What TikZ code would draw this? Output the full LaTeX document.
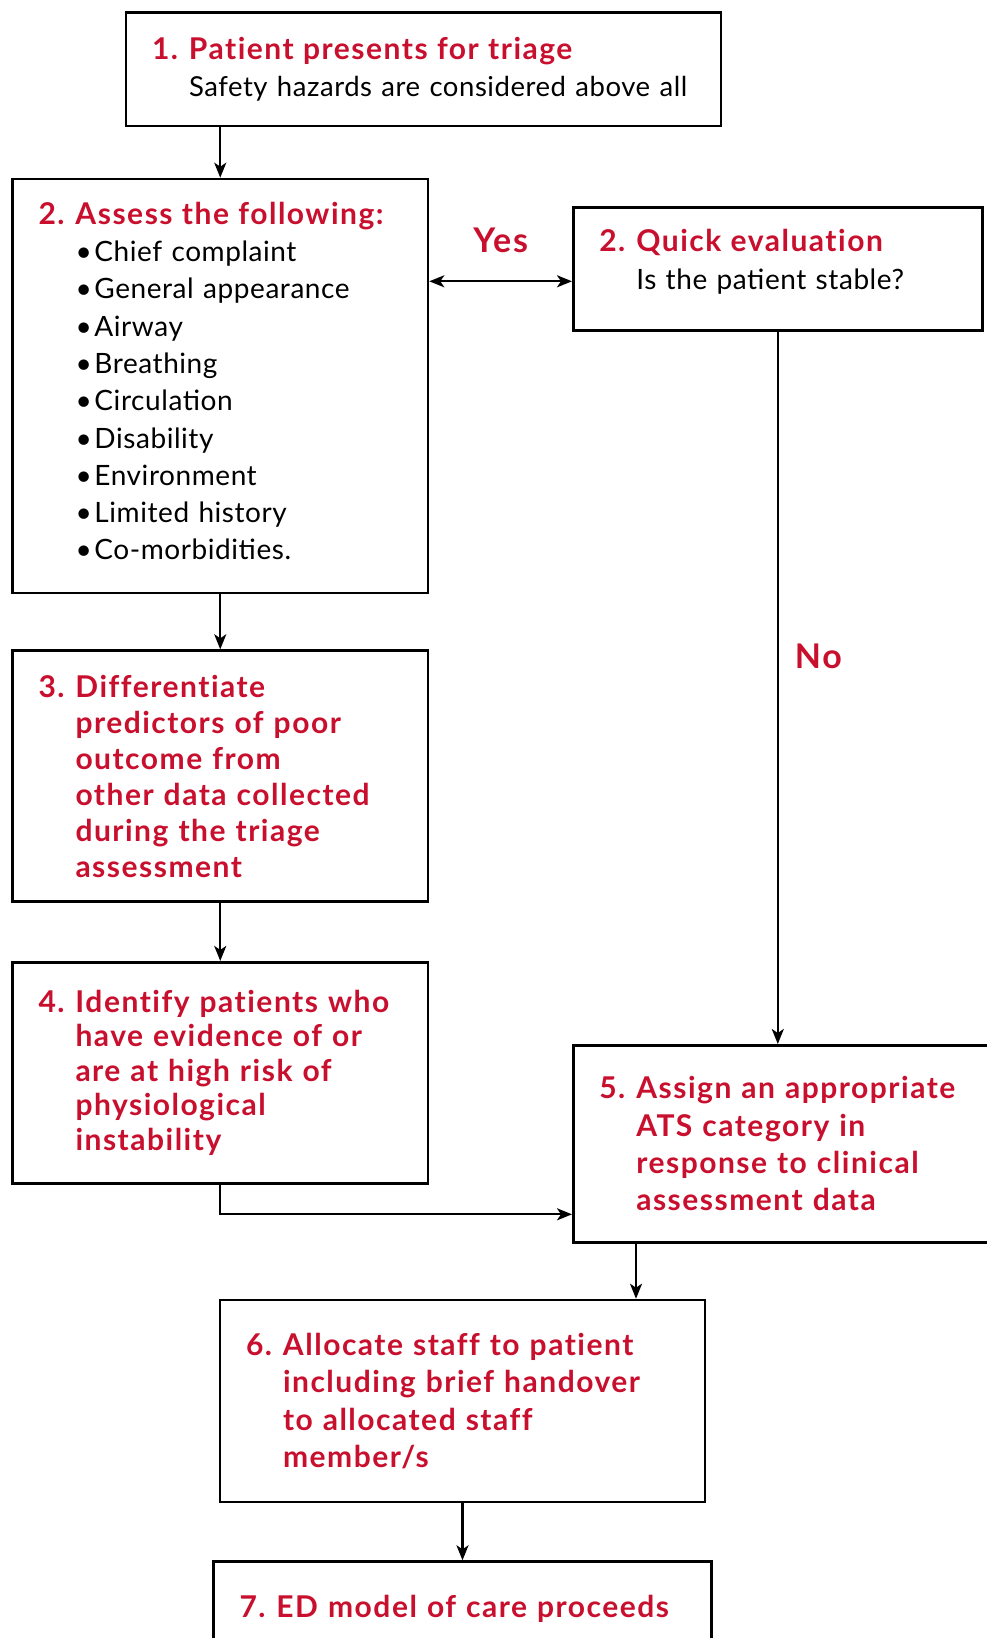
\documentclass[tikz,border=0pt]{standalone}
\usepackage{fontspec}
\setmainfont{Lato}[LetterSpace=2,
  BoldFeatures={LetterSpace=5, Ligatures=NoCommon}]
\usetikzlibrary{arrows.meta,positioning}

\definecolor{stepred}{RGB}{200,16,46}

\newcommand{\stepno}[1]{\makebox[37pt][l]{#1}}
\newcommand{\hi}[1]{{\color{stepred}\bfseries\fontsize{30}{37.3}\selectfont #1}}
\newcommand{\itm}[1]{\\\stepno{}\makebox[19pt][l]{\textbullet}#1}

\tikzset{
  stepbox/.style={draw, line width=2.6pt, inner xsep=26pt, inner ysep=0pt,
    align=left, font=\fontsize{28}{37.3}\selectfont},
  redbox/.style={stepbox, text=stepred, font=\bfseries\fontsize{30}{37.3}\selectfont},
  arr/.style={->, line width=2.2pt},
  lbl/.style={inner sep=0pt, text=stepred, font=\bfseries\fontsize{34}{38}\selectfont},
}

\begin{document}
\begin{tikzpicture}[x=1pt,y=1pt,>={Stealth[length=15pt,width=12pt,inset=4pt]},node distance=55pt]

  \clip (0,0) rectangle (987,-1638);

  \node[stepbox, text width=543pt, minimum height=113.5pt] (b1) at (423.5,-69.25)
    {\hi{\stepno{1.}Patient presents for triage}\\
     \stepno{}\mbox{\fontsize{27.5}{37.3}\selectfont Safety hazards are considered above all}};

  \node[stepbox, text width=363.5pt, minimum height=414pt] (b2) at (220.25,-386)
    {\hi{\stepno{2.}Assess the following:}%
     \itm{Chief complaint}\itm{General appearance}\itm{Airway}%
     \itm{Breathing}\itm{Circulation}\itm{Disability}%
     \itm{Environment}\itm{Limited history}\itm{Co-morbidities.\rule[-10pt]{0pt}{1pt}}};

  \node[stepbox, text width=357pt, minimum height=123pt, anchor=north west] (q) at (572,-206)
    {\hi{\stepno{2.}Quick evaluation}\\
     \stepno{}Is the patient stable?\rule[-19pt]{0pt}{19pt}};

  \node[redbox, text width=363.5pt, minimum height=251pt,
        font=\bfseries\fontsize{30}{36}\selectfont] (b3) [below=55pt of b2]
    {\stepno{3.}Differentiate\\ \stepno{}predictors of poor\\ \stepno{}outcome from\\
     \stepno{}other data collected\\ \stepno{}during the triage\\ \stepno{}assessment};

  \node[redbox, text width=363.5pt, minimum height=221pt,
        font=\bfseries\fontsize{30}{34.5}\selectfont] (b4) [below=58pt of b3]
    {\stepno{4.}Identify patients who\\ \stepno{}have evidence of or\\
     \stepno{}are at high risk of\\ \stepno{}physiological\\ \stepno{}instability};

  \node[redbox, text width=376pt, minimum height=197pt, anchor=north west] (b5) at (572,-1044)
    {\stepno{5.}Assign an appropriate\\ \stepno{}ATS category in\\
     \stepno{}response to clinical\\ \stepno{}assessment data};

  \node[redbox, text width=433pt, minimum height=202pt] (b6) at (462.5,-1401)
    {\stepno{6.}Allocate staff to patient\\ \stepno{}including brief handover\\
     \stepno{}to allocated staff\\ \stepno{}member/s};

  \node[redbox, text width=446pt, minimum height=95pt] (b7) [below=57pt of b6]
    {\stepno{7.}ED model of care proceeds};

  % connectors
  \coordinate (qin) at ([yshift=-12.5pt]q.west);
  \coordinate (b5in) at ([yshift=-70.5pt]b5.west);
  \coordinate (b5out) at ([xshift=64pt]b5.south west);

  \draw[arr] (b1.south -| b2.north) -- (b2.north);
  \draw[arr, <->] (b2.east |- qin) -- node[lbl, above=27pt] {Yes} (qin);
  \draw[arr] (q.south) -- node[lbl, pos=0.456, right=16pt] {No} (q.south |- b5.north);
  \draw[arr] (b2) -- (b3);
  \draw[arr] (b3) -- (b4);
  \draw[arr] (b4.south) |- (b5in);
  \draw[arr] (b5out) -- (b5out |- b6.north);
  \draw[arr] (b6.south) -- (b6.south |- b7.north);

\end{tikzpicture}
\end{document}
